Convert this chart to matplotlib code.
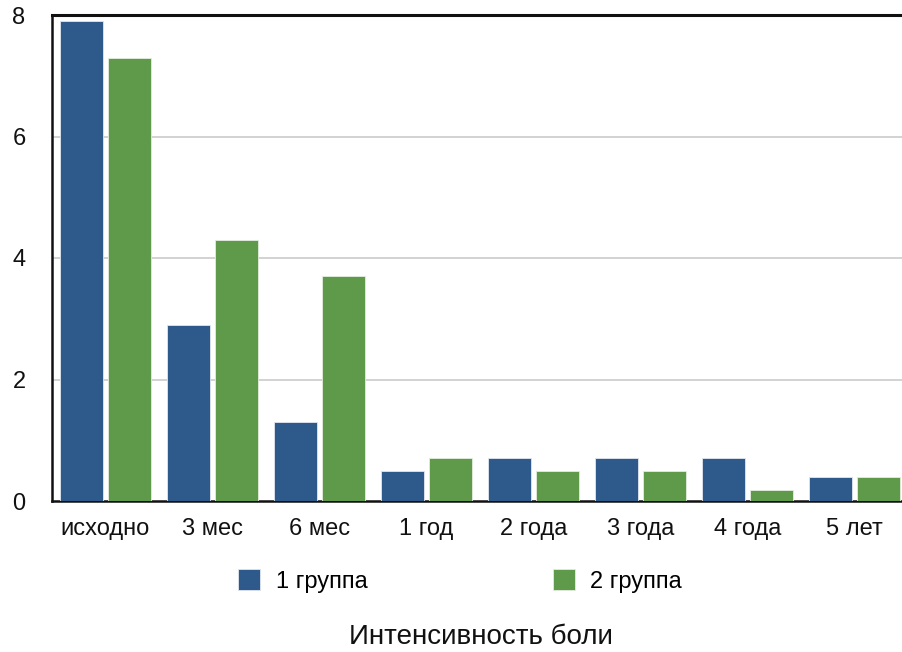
import matplotlib
matplotlib.use("Agg")
import matplotlib.pyplot as plt
import numpy as np

plt.rcParams['font.family'] = ['Liberation Sans', 'DejaVu Sans']

categories = ["исходно", "3 мес", "6 мес", "1 год", "2 года", "3 года", "4 года", "5 лет"]
group1 = [7.9, 2.9, 1.3, 0.5, 0.7, 0.7, 0.7, 0.4]
group2 = [7.3, 4.3, 3.7, 0.7, 0.5, 0.5, 0.18, 0.4]
series_names = ["1 группа", "2 группа"]
yticks = [0, 2, 4, 6, 8]

blue = "#2E5A8B"
green = "#5E9A4A"

fig = plt.figure(figsize=(9.02, 6.52), dpi=100)
ax = fig.add_axes([52/902, 1 - 501/652, 856/902, 486/652])

x = np.arange(len(categories))
w = 0.40
off = 0.224
ax.bar(x - off, group1, width=w, color=blue, edgecolor="#dfe6ee", linewidth=0.6, label=series_names[0], zorder=3)
ax.bar(x + off, group2, width=w, color=green, edgecolor="#e3eddf", linewidth=0.6, label=series_names[1], zorder=3)

ax.set_xlim(-0.5, len(categories) - 0.5)
ax.set_ylim(0, 8)
ax.set_yticks(yticks)
ax.set_yticklabels([str(t) for t in yticks])
ax.set_xticks(x)
ax.set_xticklabels(categories)
ax.tick_params(axis='both', length=0, labelsize=17, colors="#111111")
ax.tick_params(axis='y', pad=19)
ax.tick_params(axis='x', pad=12)

for t in [2, 4, 6]:
    ax.axhline(t, color="#cfcfcf", linewidth=1.3, zorder=1)

ax.spines['right'].set_visible(False)
ax.spines['top'].set_linewidth(2.2)
ax.spines['left'].set_linewidth(1.8)
ax.spines['bottom'].set_linewidth(1.8)
for s in ['top', 'left', 'bottom']:
    ax.spines[s].set_color("#111111")

fig.legend(loc='center', bbox_to_anchor=(460/902, 1 - 581/652), ncol=2, frameon=False,
           fontsize=17, handlelength=0.95, handleheight=0.95, handletextpad=0.65,
           columnspacing=7.85)

fig.text(481/902, 1 - 637/652, "Интенсивность боли", ha='center', va='center', fontsize=20, color="#111111")

fig.savefig("out.png", dpi=100)
